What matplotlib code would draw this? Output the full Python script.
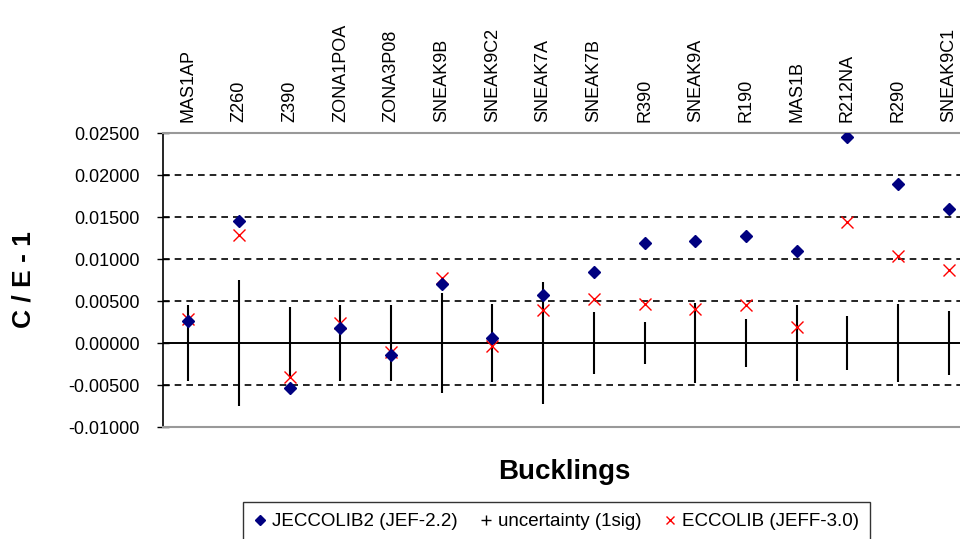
import matplotlib
matplotlib.use("Agg")
import matplotlib.pyplot as plt
from matplotlib.lines import Line2D
from matplotlib.ticker import FormatStrFormatter

plt.rcParams['font.family'] = ['Liberation Sans', 'DejaVu Sans']

# ----- data -----
cases = ["MAS1AP", "Z260", "Z390", "ZONA1POA", "ZONA3P08", "SNEAK9B", "SNEAK9C2",
         "SNEAK7A", "SNEAK7B", "R390", "SNEAK9A", "R190", "MAS1B", "R212NA",
         "R290", "SNEAK9C1"]
jeccolib2 = [0.0026, 0.0145, -0.0053, 0.0018, -0.0014, 0.0070, 0.0006, 0.0057,
             0.0084, 0.0119, 0.0122, 0.0127, 0.0110, 0.0245, 0.0189, 0.0159]
eccolib = [0.0028, 0.0128, -0.0041, 0.0024, -0.0011, 0.0077, -0.0004, 0.0039,
           0.0052, 0.0047, 0.0041, 0.0045, 0.0019, 0.0144, 0.0103, 0.0087]
uncert = [0.0045, 0.0075, 0.0043, 0.0045, 0.0045, 0.0060, 0.0047, 0.0073,
          0.0037, 0.0025, 0.0048, 0.0029, 0.0045, 0.0032, 0.0046, 0.0038]
yticks = [-0.01, -0.005, 0.0, 0.005, 0.01, 0.015, 0.02, 0.025]

W, H = 960, 539
fig = plt.figure(figsize=(W / 100, H / 100), dpi=100)
ax = fig.add_axes([163 / W, 1 - 427 / H, 811 / W, 294 / H])

x = list(range(len(cases)))

# uncertainty bars centred on zero
zeros = [0.0] * len(cases)
ax.errorbar(x, zeros, yerr=uncert, fmt='none', ecolor='black', elinewidth=1.5,
            capsize=0, zorder=3)
ax.plot(x, eccolib, linestyle='none', marker='x', color='red', markersize=9,
        markeredgewidth=1.0, zorder=4)
ax.plot(x, jeccolib2, linestyle='none', marker='D', color='#000080',
        markersize=6, zorder=5)

# grid lines (dashed) and solid zero line
for v in yticks[1:-1]:
    if v == 0:
        ax.axhline(v, color='black', linewidth=1.4, zorder=2)
    else:
        ax.axhline(v, color='black', linewidth=1.2, linestyle=(0, (4, 3)), zorder=1)

ax.set_xlim(-0.5, len(cases) - 0.5)
ax.set_ylim(-0.01, 0.025)
ax.set_yticks(yticks)
ax.yaxis.set_major_formatter(FormatStrFormatter('%.5f'))
ax.tick_params(axis='y', direction='inout', length=9, width=1, pad=12, labelsize=13)

ax.set_xticks(x)
ax.set_xticklabels(cases, rotation=90, fontsize=13)
ax.xaxis.tick_top()
ax.tick_params(axis='x', length=0, pad=8)

for s in ['top', 'bottom']:
    ax.spines[s].set_color('#999999')
    ax.spines[s].set_linewidth(1.5)
ax.spines['left'].set_color('black')
ax.spines['left'].set_linewidth(1.2)
ax.spines['right'].set_visible(False)

ax.set_ylabel("C / E - 1", fontsize=19, fontweight='bold')
ax.yaxis.set_label_coords(-0.157, 0.5)
fig.text(564 / W, 1 - 472 / H, "Bucklings", fontsize=20, fontweight='bold',
         ha='center', va='center')

handles = [
    Line2D([], [], linestyle='none', marker='D', color='#000080', markersize=5),
    Line2D([], [], linestyle='none', marker='+', color='black', markersize=7,
           markeredgewidth=1),
    Line2D([], [], linestyle='none', marker='x', color='red', markersize=6,
           markeredgewidth=1),
]
labels = ["JECCOLIB2 (JEF-2.2)", "uncertainty (1sig)", "ECCOLIB (JEFF-3.0)"]
leg = fig.legend(handles, labels, loc='upper left', bbox_to_anchor=(243 / W, 1 - 502 / H),
                 ncol=3, fontsize=13.5, frameon=True, fancybox=False, borderaxespad=0,
                 handlelength=0.6, handletextpad=0.35, columnspacing=1.2,
                 borderpad=0.6)
leg.get_frame().set_edgecolor('black')
leg.get_frame().set_linewidth(1.0)

fig.savefig("out.png", dpi=100)
